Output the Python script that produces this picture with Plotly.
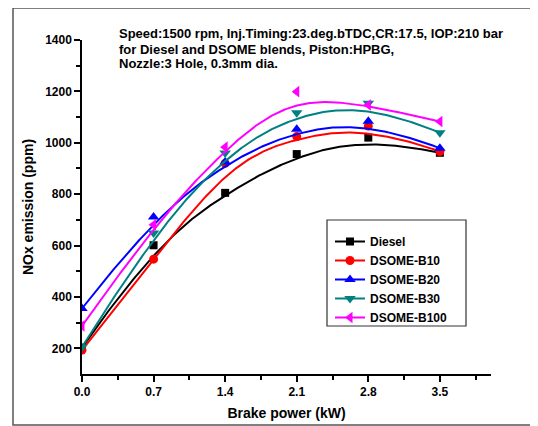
import numpy as np
import plotly.graph_objects as go

power = [0.0, 0.7, 1.4, 2.1, 2.8, 3.5]
diesel = [203, 601, 805, 956, 1020, 961]
b10 = [193, 547, 920, 1024, 1065, 966]
b20 = [355, 711, 925, 1053, 1084, 979]
b30 = [205, 649, 960, 1117, 1154, 1039]
b100 = [287, 681, 983, 1199, 1147, 1083]

names = ["Diesel", "DSOME-B10", "DSOME-B20", "DSOME-B30", "DSOME-B100"]
series = [diesel, b10, b20, b30, b100]
colors = ["#000000", "#FF0000", "#0000FF", "#008080", "#FF00FF"]
symbols = ["square", "circle", "triangle-up", "triangle-down", "triangle-left"]
msizes = [8, 9, 10, 10, 10]

title_lines = [
    "Speed:1500 rpm, Inj.Timing:23.deg.bTDC,CR:17.5, IOP:210 bar",
    "for Diesel and DSOME blends, Piston:HPBG,",
    "Nozzle:3 Hole, 0.3mm dia.",
]


def bspline(px, py, n=300, k=3):
    px = np.asarray(px, float)
    py = np.asarray(py, float)
    m = len(px)
    inner = np.linspace(0, 1, m - k + 1)
    knots = np.concatenate([np.zeros(k), inner, np.ones(k)])
    t = np.linspace(0, 1, n)
    nk = len(knots) - 1
    B = np.zeros((n, nk))
    for i in range(nk):
        B[:, i] = ((knots[i] <= t) & (t < knots[i + 1])).astype(float)
    last = max(i for i in range(nk) if knots[i] < knots[i + 1])
    B[t >= knots[-1], last] = 1.0
    for d in range(1, k + 1):
        Bn = np.zeros((n, nk - d))
        for i in range(nk - d):
            val = np.zeros(n)
            if knots[i + d] != knots[i]:
                val += (t - knots[i]) / (knots[i + d] - knots[i]) * B[:, i]
            if knots[i + d + 1] != knots[i + 1]:
                val += (knots[i + d + 1] - t) / (knots[i + d + 1] - knots[i + 1]) * B[:, i + 1]
            Bn[:, i] = val
        B = Bn
    return B @ px, B @ py


FONT = "Liberation Sans, Arial, sans-serif"
fig = go.Figure()

for name, ys, c, s, ms in zip(names, series, colors, symbols, msizes):
    cx, cy = bspline(power, ys)
    fig.add_trace(go.Scatter(x=cx, y=cy, mode="lines", line=dict(color=c, width=2),
                             showlegend=False, hoverinfo="skip"))
    fig.add_trace(go.Scatter(x=power, y=ys, mode="markers",
                             marker=dict(symbol=s, size=ms, color=c, line=dict(width=0)),
                             showlegend=False))
    fig.add_trace(go.Scatter(x=[None], y=[None], mode="lines+markers", name=name,
                             line=dict(color=c, width=2),
                             marker=dict(symbol=s, size=ms, color=c, line=dict(width=0))))

# page body has an 8px margin: figure is drawn offset by (8, 8) on screen
OFF = 8
W, H = 538, 426
# desired plot area in screen pixels
SX0, SX1, SY0, SY1 = 82, 491, 40, 374
pw, ph = SX1 - SX0, SY1 - SY0
L, T = SX0 - OFF, SY0 - OFF
R, B = W - L - pw, H - T - ph


def px2x(x):
    return (x - SX0) / pw


def px2y(y):
    return (SY1 - y) / ph


for i, (line, yy) in enumerate(zip(title_lines, [34, 49, 63])):
    fig.add_annotation(text=line, xref="paper", yref="paper", x=px2x(117), y=px2y(yy),
                       xanchor="left", yanchor="middle", showarrow=False,
                       font=dict(family=FONT, size=13, color="black", weight="bold"))

# outer frame
fig.add_shape(type="rect", xref="paper", yref="paper",
              x0=px2x(13), x1=px2x(560), y0=px2y(425), y1=px2y(8),
              line=dict(color="#555555", width=1.5), layer="below")
# legend box
fig.add_shape(type="rect", xref="paper", yref="paper",
              x0=px2x(327), x1=px2x(466), y0=px2y(326), y1=px2y(220),
              line=dict(color="#333333", width=1.2))

fig.update_layout(
    width=W, height=H,
    margin=dict(l=L, r=R, t=T, b=B),
    paper_bgcolor="white", plot_bgcolor="white",
    font=dict(family=FONT, size=12, color="black"),
    legend=dict(x=px2x(330), y=px2y(227), xanchor="left", yanchor="top",
                bgcolor="rgba(0,0,0,0)", borderwidth=0,
                font=dict(family=FONT, size=12, color="black", weight="bold"),
                tracegroupgap=0, itemwidth=30),
    xaxis=dict(range=[0, 4.0], tickvals=[0, 0.7, 1.4, 2.1, 2.8, 3.5],
               ticktext=["0.0", "0.7", "1.4", "2.1", "2.8", "3.5"],
               ticks="outside", ticklen=6, tickwidth=1.5, tickcolor="black",
               minor=dict(tickvals=[0.35, 1.05, 1.75, 2.45, 3.15, 3.85], ticks="outside",
                          ticklen=4, tickwidth=1.5, tickcolor="black"),
               showline=True, linecolor="black", linewidth=1.5, showgrid=False, zeroline=False,
               automargin=False,
               tickfont=dict(family=FONT, size=12, color="black", weight="bold"),
               title=dict(text="Brake power (kW)", standoff=10,
                          font=dict(family=FONT, size=14, color="black", weight="bold"))),
    yaxis=dict(range=[100, 1400], tickvals=[200, 400, 600, 800, 1000, 1200, 1400],
               ticks="outside", ticklen=6, tickwidth=1.5, tickcolor="black",
               minor=dict(tickvals=[300, 500, 700, 900, 1100, 1300], ticks="outside",
                          ticklen=4, tickwidth=1.5, tickcolor="black"),
               showline=True, linecolor="black", linewidth=1.5, showgrid=False, zeroline=False,
               automargin=False,
               tickfont=dict(family=FONT, size=12, color="black", weight="bold"),
               title=dict(text="NOx emission (ppm)", standoff=8,
                          font=dict(family=FONT, size=14, color="black", weight="bold"))),
)

fig.write_html("out.html")
